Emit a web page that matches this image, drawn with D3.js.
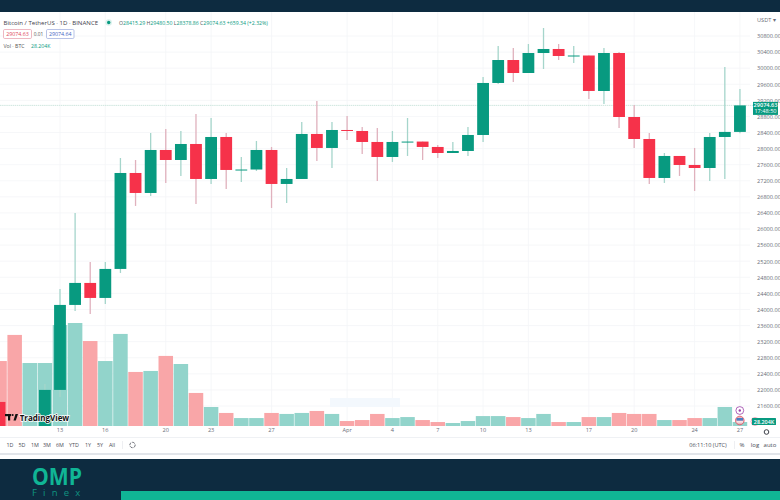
<!DOCTYPE html>
<html>
<head>
<meta charset="utf-8">
<style>
  html, body { margin: 0; padding: 0; background: #fff; overflow: hidden; }
  text { font-family: "Open Sans", sans-serif; }
  .axis path, .axis line { display: none; }
  .axis text { fill: #6a6d78; font-size: 5.6px; }
</style>
<script src="https://cdn.jsdelivr.net/npm/d3@7"></script>
</head>
<body>
<svg id="chart" width="780" height="500"></svg>
<script>
const days = [
  "03-09", "03-10", "03-11", "03-12", "03-13", "03-14", "03-15", "03-16", "03-17", "03-18",
  "03-19", "03-20", "03-21", "03-22", "03-23", "03-24", "03-25", "03-26", "03-27", "03-28",
  "03-29", "03-30", "03-31", "04-01", "04-02", "04-03", "04-04", "04-05", "04-06", "04-07",
  "04-08", "04-09", "04-10", "04-11", "04-12", "04-13", "04-14", "04-15", "04-16", "04-17",
  "04-18", "04-19", "04-20", "04-21", "04-22", "04-23", "04-24", "04-25", "04-26", "04-27",
];
const opens = [
  21701, 20362, 20150, 20455, 22000, 24113, 24660, 24287, 25008, 27394,
  26897, 27966, 27717, 28115, 27245, 28289, 27469, 27480, 27966, 27121,
  27245, 28364, 28016, 28463, 28438, 28165, 27792, 28165, 28175, 28041,
  27891, 27941, 28339, 29632, 30203, 29880, 30377, 30477, 30303, 30315,
  29433, 30377, 28786, 28239, 27270, 27817, 27593, 27518, 28289, 28415.29,
];
const highs = [
  21701, 20367, 20650, 22149, 24510, 26400, 25182, 25182, 27767, 27717,
  28389, 28488, 28438, 28861, 28761, 28389, 27792, 28190, 28041, 27518,
  28662, 29184, 28662, 28811, 28538, 28513, 28438, 28761, 28175, 28090,
  28165, 28538, 29781, 30551, 30502, 30601, 30999, 30601, 30551, 30315,
  30502, 30402, 29085, 28389, 27891, 27817, 28016, 28389, 30029, 29480.5,
];
const lows = [
  20042, 19549, 19800, 20270, 21825, 23964, 23889, 24137, 24908, 26574,
  26822, 27146, 27320, 26624, 27121, 26996, 27170, 27444, 26524, 26648,
  27245, 27692, 27518, 28215, 27866, 27195, 27668, 27817, 27717, 27767,
  27891, 27817, 28165, 29607, 29656, 29880, 29980, 30203, 30129, 29234,
  29110, 28513, 28016, 27121, 27146, 27320, 26947, 27195, 27245, 28378.86,
];
const closes = [
  20362, 20150, 20455, 22000, 24113, 24660, 24287, 25008, 27394, 26897,
  27966, 27717, 28115, 27245, 28289, 27469, 27480, 27966, 27121, 27245,
  28364, 28016, 28463, 28450, 28165, 27792, 28165, 28175, 28041, 27891,
  27941, 28339, 29632, 30203, 29880, 30377, 30477, 30303, 30315, 29433,
  30377, 28786, 28239, 27270, 27817, 27593, 27518, 28289, 28415, 29074.63,
];
// Volume in thousands of BTC
const volumes = [
  458, 642, 444, 444, 712, 726, 599, 458, 649, 381,
  388, 494, 437, 233, 134, 92, 56, 56, 92, 85,
  92, 106, 85, 35, 42, 85, 56, 63, 42, 28,
  21, 35, 70, 70, 63, 56, 85, 28, 28, 63,
  63, 92, 85, 85, 42, 42, 56, 56, 134, 28.204,
];
const tickDays = ["03-13", "03-16", "03-20", "03-23", "03-27", "04-01", "04-04", "04-07", "04-10", "04-13", "04-17", "04-20", "04-24", "04-27"];
const tickLabels = ["13", "16", "20", "23", "27", "Apr", "4", "7", "10", "13", "17", "20", "24", "27"];
const priceTicks = [
  21600, 22000, 22400, 22800, 23200, 23600, 24000, 24400, 24800, 25200, 25600, 26000,
  26400, 26800, 27200, 27600, 28000, 28400, 28800, 29200, 29600, 30000, 30400, 30800,
];
const rangeButtons = ["1D", "5D", "1M", "3M", "6M", "YTD", "1Y", "5Y", "All"];
const rangeButtonX = [10, 22, 35, 47, 60, 74, 88, 100, 112];

const UP = "#089a80";
const DOWN = "#f6324a";
const UP_WICK = "#a5d5cb";
const DOWN_WICK = "#e0b1bd";
const UP_VOL = "#92d4cb";
const DOWN_VOL = "#f9a6a8";
const NAVY = "#0d2b40";
const TEAL = "#10b595";
const LAST_PRICE = closes[closes.length - 1];

const svg = d3.select("#chart");

const xScale = d3.scaleBand().domain(days).range([-8, 747.5]);
const yScale = d3.scaleLinear().domain([21600, 30800]).range([406, 36]);
const volScale = d3.scaleLinear().domain([0, 700]).range([426, 326.7]);
const candles = days.map((d, i) => ({
  day: d, open: opens[i], high: highs[i], low: lows[i], close: closes[i], vol: volumes[i],
  up: closes[i] >= opens[i],
}));
const xMid = (d) => xScale(d) + xScale.bandwidth() / 2;

// Page frame
svg.append("rect").attr("width", 780).attr("height", 12).attr("fill", NAVY);
svg.append("rect").attr("y", 459).attr("width", 780).attr("height", 41).attr("fill", NAVY);
svg.append("rect").attr("x", 121).attr("y", 491).attr("width", 659).attr("height", 9).attr("fill", TEAL);
svg.append("rect").attr("y", 453).attr("width", 780).attr("height", 2).attr("fill", "#e2e5ea");
svg.append("rect").attr("y", 437).attr("width", 780).attr("height", 0.7).attr("fill", "#e9ebef");

svg.append("defs").append("clipPath").attr("id", "pane")
  .append("rect").attr("x", 0).attr("y", 12).attr("width", 750).attr("height", 414);

// Grid
svg.append("g").selectAll("line").data(priceTicks).enter().append("line")
  .attr("x1", 0).attr("x2", 750)
  .attr("y1", (d) => yScale(d)).attr("y2", (d) => yScale(d))
  .attr("stroke", "#f4f5f7").attr("stroke-width", 0.8);
svg.append("g").selectAll("line").data(tickDays).enter().append("line")
  .attr("x1", xMid).attr("x2", xMid)
  .attr("y1", 12).attr("y2", 426)
  .attr("stroke", "#f4f5f7").attr("stroke-width", 0.8);

// Last price line, behind the candles
svg.append("line")
  .attr("x1", 0).attr("x2", 753)
  .attr("y1", yScale(LAST_PRICE)).attr("y2", yScale(LAST_PRICE))
  .attr("stroke", "#cfe6df").attr("stroke-width", 1).attr("stroke-dasharray", "1.5 0.6");

const pane = svg.append("g").attr("clip-path", "url(#pane)");

// Faint bar above the volume
pane.append("rect").attr("x", 330).attr("y", 398).attr("width", 70).attr("height", 9).attr("fill", "#f3f8fd");

// Volume
pane.append("g").selectAll("rect").data(candles).enter().append("rect")
  .attr("x", (d) => xScale(d.day) + 0.3)
  .attr("width", xScale.bandwidth() - 0.6)
  .attr("y", (d) => volScale(d.vol))
  .attr("height", (d) => volScale(0) - volScale(d.vol))
  .attr("fill", (d) => (d.up ? UP_VOL : DOWN_VOL));

// Wicks
pane.append("g").selectAll("line").data(candles).enter().append("line")
  .attr("x1", (d) => xMid(d.day)).attr("x2", (d) => xMid(d.day))
  .attr("y1", (d) => yScale(d.high)).attr("y2", (d) => yScale(d.low))
  .attr("stroke", (d) => (d.up ? UP_WICK : DOWN_WICK)).attr("stroke-width", 1.3);

// Bodies
pane.append("g").selectAll("rect").data(candles).enter().append("rect")
  .attr("x", (d) => xMid(d.day) - 5.9)
  .attr("width", 11.8)
  .attr("y", (d) => yScale(Math.max(d.open, d.close)))
  .attr("height", (d) => Math.max(1, Math.abs(yScale(d.open) - yScale(d.close))))
  .attr("fill", (d) => (d.up ? UP : DOWN));

// Axes
svg.append("g").attr("class", "axis")
  .attr("transform", "translate(754,0)")
  .call(d3.axisRight(yScale).tickValues(priceTicks).tickFormat(d3.format(".2f")).tickSize(0).tickPadding(3));
svg.append("g").attr("class", "axis")
  .attr("transform", "translate(0,427)")
  .call(d3.axisBottom(xScale).tickValues(tickDays).tickFormat((d, i) => tickLabels[i]).tickSize(0).tickPadding(1));

svg.append("text").attr("x", 757).attr("y", 22).attr("font-size", 5.6).attr("fill", "#6a6d78").text("USDT ▾");

// Last price label
const lastY = yScale(LAST_PRICE);
svg.append("rect").attr("x", 753).attr("y", lastY - 3.5).attr("width", 25).attr("height", 13).attr("fill", UP);
svg.append("text").attr("x", 765.5).attr("y", lastY + 2).attr("text-anchor", "middle")
  .attr("font-size", 5.6).attr("font-weight", 600).attr("fill", "#fff").text("29074.63");
svg.append("text").attr("x", 765.5).attr("y", lastY + 8).attr("text-anchor", "middle")
  .attr("font-size", 5.6).attr("fill", "#fff").text("17:48:50");

// Volume label and markers
svg.append("circle").attr("cx", 755).attr("cy", 421.5).attr("r", 4).attr("fill", "#fff").attr("stroke", "#f3a6b6").attr("stroke-width", 1);
svg.append("rect").attr("x", 752).attr("y", 418).attr("width", 24).attr("height", 7).attr("rx", 0.5).attr("fill", UP);
svg.append("text").attr("x", 764).attr("y", 423.5).attr("text-anchor", "middle")
  .attr("font-size", 5.4).attr("font-weight", 600).attr("fill", "#fff").text("28.204K");
svg.append("circle").attr("cx", 739.8).attr("cy", 410.5).attr("r", 3.9).attr("fill", "#fff").attr("stroke", "#9c3fa8").attr("stroke-width", 0.8);
svg.append("circle").attr("cx", 739.8).attr("cy", 410.5).attr("r", 1.2).attr("fill", "#9c3fa8");
svg.append("circle").attr("cx", 739.8).attr("cy", 420.5).attr("r", 4.3).attr("fill", "#e9b7bd").attr("stroke", "#e0485a").attr("stroke-width", 0.8);
svg.append("rect").attr("x", 736.5).attr("y", 418).attr("width", 6.6).attr("height", 2.6).attr("fill", "#4a7fc4");
svg.append("rect").attr("x", 736.5).attr("y", 421.4).attr("width", 6.6).attr("height", 1).attr("fill", "#fff");

// Gear
svg.append("circle").attr("cx", 766.5).attr("cy", 432).attr("r", 2.3).attr("fill", "none").attr("stroke", "#3d4049").attr("stroke-width", 1);

// Header legend
svg.append("text").attr("x", 3.5).attr("y", 24.8).attr("font-size", 6.1).attr("fill", "#3f424c").text("Bitcoin / TetherUS · 1D · BINANCE");
svg.append("circle").attr("cx", 108.7).attr("cy", 22.5).attr("r", 1.7).attr("fill", UP);
svg.append("circle").attr("cx", 108.7).attr("cy", 22.5).attr("r", 3.2).attr("fill", UP).attr("opacity", 0.15);
const legend = svg.append("text").attr("x", 119).attr("y", 25).attr("font-size", 5.2);
[["O", "#555"], ["28415.29 ", UP], ["H", "#555"], ["29480.50 ", UP], ["L", "#555"], ["28378.86 ", UP], ["C", "#555"], ["29074.63 ", UP], ["+659.34 (+2.32%)", UP]]
  .forEach(([t, c]) => legend.append("tspan").attr("fill", c).text(t));

svg.append("rect").attr("x", 3.5).attr("y", 29.5).attr("width", 28).attr("height", 9).attr("rx", 1.2)
  .attr("fill", "#fff").attr("stroke", "#e79aa8").attr("stroke-width", 0.7);
svg.append("text").attr("x", 17.5).attr("y", 36).attr("text-anchor", "middle").attr("font-size", 5.3).attr("fill", "#e0485a").text("29074.63");
svg.append("text").attr("x", 38.5).attr("y", 36).attr("text-anchor", "middle").attr("font-size", 4.8).attr("fill", "#555").text("0.01");
svg.append("rect").attr("x", 46.5).attr("y", 29.5).attr("width", 27.5).attr("height", 9).attr("rx", 1.2)
  .attr("fill", "#fff").attr("stroke", "#9aa9dd").attr("stroke-width", 0.7);
svg.append("text").attr("x", 60.2).attr("y", 36).attr("text-anchor", "middle").attr("font-size", 5.3).attr("fill", "#3f5fbf").text("29074.64");
svg.append("text").attr("x", 3.5).attr("y", 48).attr("font-size", 5.2).attr("fill", "#555").text("Vol · BTC");
svg.append("text").attr("x", 31).attr("y", 48).attr("font-size", 5.2).attr("fill", UP).text("28.204K");

// TradingView mark
svg.append("rect").attr("x", 5).attr("y", 414).attr("width", 6).attr("height", 2.2).attr("fill", "#111");
svg.append("rect").attr("x", 8).attr("y", 414).attr("width", 2.2).attr("height", 6.5).attr("fill", "#111");
svg.append("circle").attr("cx", 12.6).attr("cy", 415).attr("r", 1.1).attr("fill", "#111");
svg.append("path").attr("d", "M13.5 420.5 L15.5 414 H18 L15.8 420.5 Z").attr("fill", "#111");
svg.append("text").attr("x", 19.7).attr("y", 420.7).attr("font-size", 8.7).attr("font-weight", 700)
  .attr("textLength", 49.5).attr("lengthAdjust", "spacingAndGlyphs")
  .attr("stroke", "#fff").attr("stroke-width", 1.4).attr("paint-order", "stroke").attr("fill", "#111").text("TradingView");

// Bottom toolbar
svg.append("g").selectAll("text").data(rangeButtons).enter().append("text")
  .attr("x", (d, i) => rangeButtonX[i]).attr("y", 447).attr("text-anchor", "middle")
  .attr("font-size", 5.4).attr("fill", "#4a4d57").text((d) => d);
svg.append("rect").attr("x", 122).attr("y", 441).attr("width", 0.6).attr("height", 8).attr("fill", "#e3e5ea");
svg.append("circle").attr("cx", 132.5).attr("cy", 445).attr("r", 2.7).attr("fill", "none")
  .attr("stroke", "#4a4d57").attr("stroke-width", 0.8).attr("stroke-dasharray", "3 1");
svg.append("text").attr("x", 708).attr("y", 447).attr("text-anchor", "middle").attr("font-size", 5.6).attr("fill", "#4a4d57").text("06:11:10 (UTC)");
svg.append("rect").attr("x", 734).attr("y", 441).attr("width", 0.6).attr("height", 8).attr("fill", "#e3e5ea");
svg.append("text").attr("x", 742).attr("y", 447.3).attr("text-anchor", "middle").attr("font-size", 6).attr("fill", "#4a4d57").text("%");
svg.append("text").attr("x", 755).attr("y", 447.3).attr("text-anchor", "middle").attr("font-size", 6).attr("fill", "#4a4d57").text("log");
svg.append("text").attr("x", 770).attr("y", 447.3).attr("text-anchor", "middle").attr("font-size", 6).attr("fill", "#4a4d57").text("auto");

// OMP Finex logo
svg.append("text").attr("x", 32).attr("y", 485).attr("font-size", 23).attr("font-weight", 700)
  .attr("textLength", 50).attr("lengthAdjust", "spacingAndGlyphs")
  .attr("font-family", "Lato, sans-serif").attr("fill", TEAL).text("OMP");
svg.append("text").attr("x", 32).attr("y", 496).attr("font-size", 9.5)
  .attr("letter-spacing", "6.2px").attr("font-family", "Lato, sans-serif").attr("fill", "#0f9480").text("Finex");
</script>
</body>
</html>
